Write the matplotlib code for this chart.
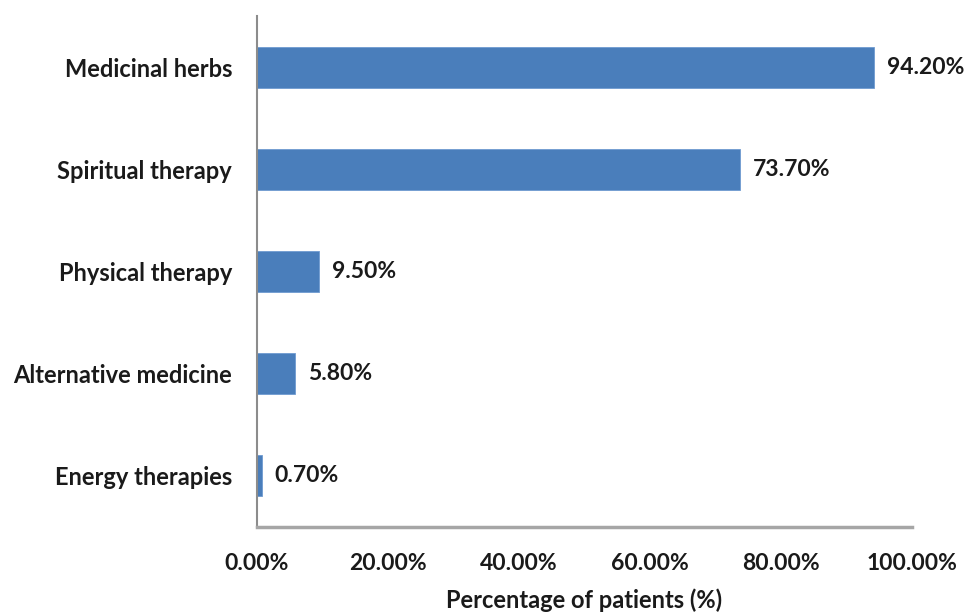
import matplotlib
matplotlib.use("Agg")
import matplotlib.pyplot as plt
import numpy as np

# uso de terapias complementarias
categorias = ["Medicinal herbs", "Spiritual therapy", "Physical therapy",
              "Alternative medicine", "Energy therapies"]
porcentajes = [94.2, 73.7, 9.5, 5.8, 0.7]
ticks_x = [0, 20, 40, 60, 80, 100]

plt.rcParams['font.family'] = ['Lato', 'DejaVu Sans']
tam = 16.5

fig = plt.figure(figsize=(9.64, 6.14), dpi=100)
ax = fig.add_axes([0.2666, 0.1417, 0.946 - 0.2666, 0.974 - 0.1417])

# la primera categoria va arriba
pos = np.arange(len(categorias))[::-1]
ax.barh(pos, porcentajes, height=0.4, color="#4a7ebb", edgecolor="#6f9bd1", linewidth=0.6)

for y, v in zip(pos, porcentajes):
    ax.text(v + 2.0, y, "{:.2f}%".format(v), va="center", ha="left",
            fontsize=tam, fontweight="bold", color="#1a1a1a")

ax.set_xlim(0, 100)
ax.set_ylim(-0.5, 4.5)
ax.set_yticks(pos)
ax.set_yticklabels(categorias, fontsize=17, fontweight="bold", color="#1a1a1a")
ax.set_xticks(ticks_x)
ax.set_xticklabels(["{:.2f}%".format(t) for t in ticks_x], fontsize=tam,
                   fontweight="bold", color="#1a1a1a")
ax.tick_params(axis="both", length=0)
ax.tick_params(axis="x", pad=19)
ax.tick_params(axis="y", pad=18)
ax.set_xlabel("Percentage of patients (%)", fontsize=17, fontweight="bold",
              color="#1a1a1a", labelpad=10)

for lado in ["top", "right"]:
    ax.spines[lado].set_visible(False)
ax.spines["left"].set_color("#8c8c8c")
ax.spines["left"].set_linewidth(1.5)
ax.spines["bottom"].set_color("#a6a6a6")
ax.spines["bottom"].set_linewidth(2.5)

fig.savefig("out.png", dpi=100)
